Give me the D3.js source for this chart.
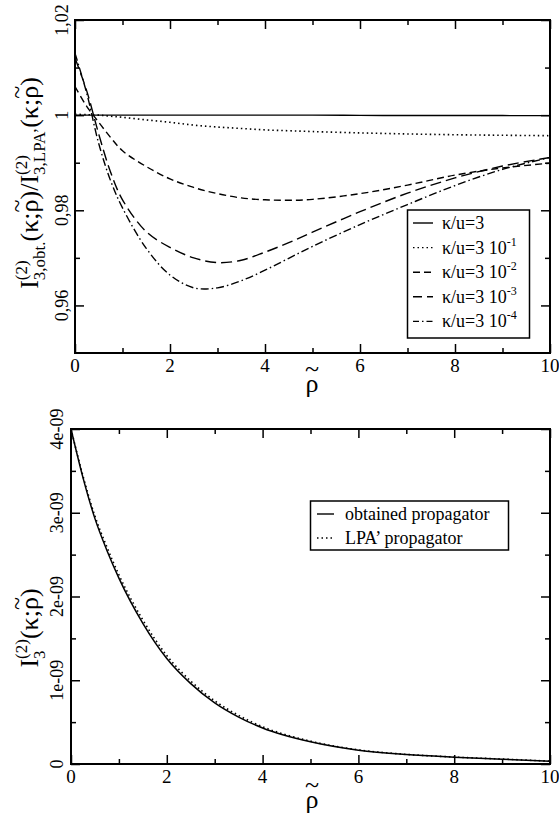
<!DOCTYPE html>
<html><head><meta charset="utf-8">
<script src="https://cdn.jsdelivr.net/npm/d3@7"></script>
<style>
body{margin:0;background:#fff;}
svg{display:block;}
text{font-family:"Liberation Serif","Times New Roman",serif;fill:#000;}
</style></head>
<body>
<svg id="c" width="559" height="823" font-family="Liberation Serif, serif"></svg>
<script>
// ---------- data ----------
const rhoTop = [0,0.25,0.5,0.75,1,1.5,2,2.5,3,3.5,4,4.5,5,6,7,8,9,10];
const ratio_k3      = [1.0,1.0,1.0,1.0,1.0,1.0,1.0,1.0,1.0,1.0,1.0,1.0,1.0,0.99995,0.99993,0.99992,0.99991,0.9999];
const ratio_k3e1    = [1.0002,1.0001,1.0,0.99978,0.99955,0.999,0.9985,0.9979,0.9975,0.9972,0.9969,0.99672,0.99655,0.99627,0.99605,0.99588,0.99577,0.99568];
const ratio_k3e2    = [1.006,1.0018,0.9985,0.9953,0.9925,0.9892,0.9866,0.9848,0.9835,0.9826,0.9822,0.9821,0.9823,0.9835,0.9853,0.9874,0.9889,0.9899];
const ratio_k3e3    = [1.012,1.005,0.996,0.988,0.9822,0.9755,0.9722,0.9700,0.9690,0.9695,0.9712,0.9732,0.9754,0.9797,0.9836,0.9868,0.9893,0.9911];
const ratio_k3e4    = [1.013,1.0045,0.994,0.9862,0.9805,0.9720,0.9664,0.9637,0.9637,0.9652,0.9674,0.9699,0.9724,0.9770,0.9812,0.9852,0.9886,0.9911];
const seriesTopNames = ["κ/u=3","κ/u=3 10","κ/u=3 10","κ/u=3 10","κ/u=3 10"];
const seriesTopExp   = ["","-1","-2","-3","-4"];

const rhoBot = [0,0.25,0.5,0.75,1,1.5,2,2.5,3,3.5,4,5,6,7,8,9,10];
const I3_obtained = [4.0,3.42,2.93,2.55,2.22,1.68,1.26,0.96,0.73,0.56,0.43,0.265,0.165,0.113,0.082,0.058,0.034];
const I3_LPA      = [4.0,3.44,2.96,2.59,2.26,1.72,1.295,0.99,0.755,0.58,0.445,0.273,0.169,0.115,0.083,0.059,0.034];
const seriesBotNames = ["obtained propagator","LPA’ propagator"];

const xTicks = [0,2,4,6,8,10];
const xTickLabels = ["0","2","4","6","8","10"];
const yTopTicks = [0.96,0.98,1.0,1.02];
const yTopTickLabels = ["0,96","0,98","1","1,02"];
const yBotTicks = [0,1e-9,2e-9,3e-9,4e-9];
const yBotTickLabels = ["0","1e-09","2e-09","3e-09","4e-09"];

// ---------- drawing ----------
const svg = d3.select("#c");

function rhoTilde(t, size, lift){
  const r = t.append("tspan").text("ρ");
  const tl = t.append("tspan").text("~").attr("font-size",size);
  const rw = r.node().getComputedTextLength();
  const tw = tl.node().getComputedTextLength();
  tl.attr("dx",-(rw+tw)/2).attr("dy",-lift);
  return {rw,tw,lift};
}

function panel(cfg){
  const g = svg.append("g");
  const x = d3.scaleLinear().domain([0,10]).range([cfg.left,cfg.right]);
  const y = d3.scaleLinear().domain(cfg.ydom).range([cfg.bottom,cfg.top]);
  const cid = "clip"+cfg.id;
  svg.append("clipPath").attr("id",cid).append("rect")
    .attr("x",cfg.left).attr("y",cfg.top).attr("width",cfg.right-cfg.left).attr("height",cfg.bottom-cfg.top);
  const majX = xTicks, minX = d3.range(1,10,2);
  const add = (ax, tr) => {
    const a = g.append("g").attr("transform",tr).call(ax);
    a.select(".domain").remove();
    a.selectAll("line").attr("stroke","#000").attr("stroke-width",1.5);
  };
  add(d3.axisBottom(x).tickValues(majX).tickSize(-9).tickFormat(""),`translate(0,${cfg.bottom})`);
  add(d3.axisBottom(x).tickValues(minX).tickSize(-5).tickFormat(""),`translate(0,${cfg.bottom})`);
  add(d3.axisTop(x).tickValues(majX).tickSize(-9).tickFormat(""),`translate(0,${cfg.top})`);
  add(d3.axisTop(x).tickValues(minX).tickSize(-5).tickFormat(""),`translate(0,${cfg.top})`);
  add(d3.axisLeft(y).tickValues(cfg.ymaj).tickSize(-9).tickFormat(""),`translate(${cfg.left},0)`);
  add(d3.axisLeft(y).tickValues(cfg.ymin).tickSize(-5).tickFormat(""),`translate(${cfg.left},0)`);
  add(d3.axisRight(y).tickValues(cfg.ymaj).tickSize(-9).tickFormat(""),`translate(${cfg.right},0)`);
  add(d3.axisRight(y).tickValues(cfg.ymin).tickSize(-5).tickFormat(""),`translate(${cfg.right},0)`);
  g.append("rect").attr("x",cfg.left).attr("y",cfg.top)
    .attr("width",cfg.right-cfg.left).attr("height",cfg.bottom-cfg.top)
    .attr("fill","none").attr("stroke","#000").attr("stroke-width",2);
  g.selectAll(".xl").data(xTicks).enter().append("text")
    .attr("x",d=>x(d)).attr("y",cfg.bottom+19).attr("text-anchor","middle")
    .attr("font-size",19).text((d,i)=>xTickLabels[i]);
  g.selectAll(".yl").data(cfg.ymaj).enter().append("text")
    .attr("transform",d=>`translate(${cfg.ylabX},${y(d)}) rotate(-90)`)
    .attr("text-anchor","middle").attr("font-size",18)
    .text((d,i)=>cfg.ylabs[i]);
  const xt = g.append("text").attr("x",cfg.xtX).attr("y",cfg.xtY).attr("text-anchor","middle")
    .attr("font-size",26);
  rhoTilde(xt, 26, 15);
  return {g,x,y,cid};
}

function yTitle(parent, cx, cy, parts){
  const t = parent.append("text").attr("transform",`translate(${cx},${cy}) rotate(-90)`)
    .attr("text-anchor","middle").attr("font-size",26);
  parts.forEach((p,i)=>{
    if(p.rho){
      const info = rhoTilde(t, 24, 13);
      t.append("tspan").text(p.after).attr("dy",info.lift).attr("dx",(info.rw-info.tw)/2);
      return;
    }
    const ts = t.append("tspan").text(p.t);
    if(p.size) ts.attr("font-size",p.size);
    if(p.dy) ts.attr("dy",p.dy);
    p.node = ts.node();
    if(p.sub){
      const supLen = parts[i-1].node.getComputedTextLength();
      const subLen = ts.node().getComputedTextLength();
      ts.attr("dx",-supLen);
      p.extra = Math.max(0,supLen-subLen);
    }
    if(i>0 && parts[i-1].extra){ ts.attr("dx",parts[i-1].extra); }
  });
  return t;
}

// ---- top panel ----
const T = panel({id:"t",left:75,right:550,top:20,bottom:353,ydom:[0.95,1.02],
  ymaj:yTopTicks, ymin:[0.97,0.99,1.01], ylabs:yTopTickLabels, ylabX:68,
  xtX:312, xtY:392});
const topSeries = [ratio_k3,ratio_k3e1,ratio_k3e2,ratio_k3e3,ratio_k3e4];
const topDash = [null,"1.5,3","7,4","11,5","8,3,1.5,3"];
const lineT = d3.line().x((d,i)=>T.x(rhoTop[i])).y(d=>T.y(d)).curve(d3.curveCatmullRom.alpha(0.5));
const cg = T.g.append("g").attr("clip-path",`url(#${T.cid})`);
topSeries.forEach((s,k)=>{
  cg.append("path").attr("d",lineT(s)).attr("fill","none").attr("stroke","#000")
    .attr("stroke-width",k===1?1.6:1.4).attr("stroke-dasharray",topDash[k]);
});
const lgT = T.g.append("g");
lgT.append("rect").attr("x",407.5).attr("y",210).attr("width",122).attr("height",128)
  .attr("fill","#fff").attr("stroke","#000").attr("stroke-width",1.5);
const legDash = [null,"1.5,3","7,4","9,5","6,3,1.5,3"];
seriesTopNames.forEach((n,k)=>{
  const yy = 223 + k*24.6;
  lgT.append("line").attr("x1",413).attr("x2",433).attr("y1",yy).attr("y2",yy)
    .attr("stroke","#000").attr("stroke-width",1.4).attr("stroke-dasharray",legDash[k]);
  const t = lgT.append("text").attr("x",442).attr("y",yy+6).attr("font-size",18).text(n);
  if(seriesTopExp[k]) t.append("tspan").attr("dy",-8).attr("font-size",12).text(seriesTopExp[k]);
});
yTitle(T.g, 38, 183, [
  {t:"I"},{t:"(2)",size:17,dy:-11},{t:"3,obt.",size:17,dy:18,sub:true},{t:"(κ;",dy:-7},
  {rho:true,after:")/I"},
  {t:"(2)",size:17,dy:-11},{t:"3,LPA’",size:17,dy:18,sub:true},{t:"(κ;",dy:-7},
  {rho:true,after:")"}
]);

// ---- bottom panel ----
const B = panel({id:"b",left:71,right:550,top:429,bottom:764,ydom:[0,4e-9],
  ymaj:yBotTicks, ymin:[0.5e-9,1.5e-9,2.5e-9,3.5e-9], ylabs:yBotTickLabels, ylabX:63,
  xtX:312, xtY:808});
const lineB = d3.line().x((d,i)=>B.x(rhoBot[i])).y(d=>B.y(d*1e-9)).curve(d3.curveMonotoneX);
const cgb = B.g.append("g").attr("clip-path",`url(#${B.cid})`);
cgb.append("path").attr("d",lineB(I3_LPA)).attr("fill","none").attr("stroke","#000")
  .attr("stroke-width",1.6).attr("stroke-dasharray","1.5,3");
cgb.append("path").attr("d",lineB(I3_obtained)).attr("fill","none").attr("stroke","#000")
  .attr("stroke-width",1.5);
const lgB = B.g.append("g");
lgB.append("rect").attr("x",310.5).attr("y",501).attr("width",198).attr("height",49)
  .attr("fill","#fff").attr("stroke","#000").attr("stroke-width",1.5);
seriesBotNames.forEach((n,k)=>{
  const yy = 514 + k*24;
  lgB.append("line").attr("x1",317).attr("x2",334).attr("y1",yy).attr("y2",yy)
    .attr("stroke","#000").attr("stroke-width",1.4).attr("stroke-dasharray",k?"1.5,3":null);
  lgB.append("text").attr("x",345).attr("y",yy+6).attr("font-size",18).text(n);
});
yTitle(B.g, 38, 628, [
  {t:"I"},{t:"(2)",size:17,dy:-11},{t:"3",size:17,dy:18,sub:true},{t:"(κ;",dy:-7},
  {rho:true,after:")"}
]);
</script>
</body></html>
